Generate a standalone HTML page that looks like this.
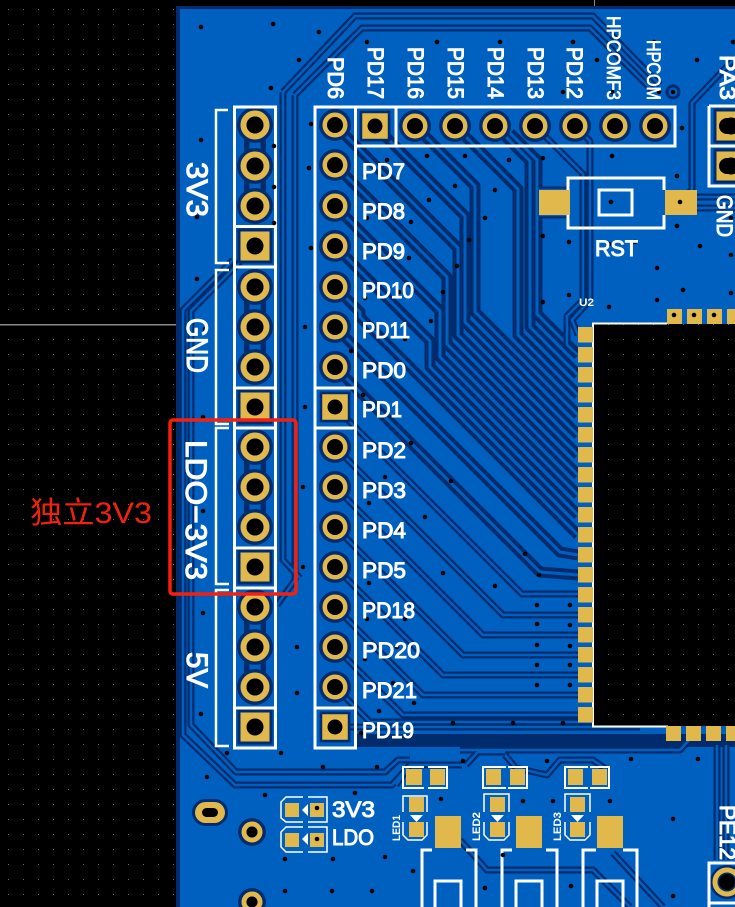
<!DOCTYPE html>
<html><head><meta charset="utf-8"><style>
html,body{margin:0;padding:0;background:#000;width:735px;height:907px;overflow:hidden}
svg{display:block;position:absolute;left:0;top:0}
.s{font-family:"Liberation Sans",sans-serif;fill:#fff;stroke:#fff;stroke-width:1}
.r{font-size:22px}
.b{font-size:30px;stroke-width:1.1}
.m{font-size:19px;stroke-width:.7}
.k{font-family:"Liberation Sans",sans-serif;font-weight:bold;font-size:11px;fill:#fff}
</style></head><body>
<svg width="735" height="907" viewBox="0 0 735 907" xmlns="http://www.w3.org/2000/svg">
<defs>
<pattern id="g" width="15" height="15" patternUnits="userSpaceOnUse"><rect x="8" y="9" width="1" height="1" fill="#6a6a6a"/></pattern>
<g id="fan" fill="none" stroke-linejoin="round">
<path d="M335 287L360 312V317L578 535"/>
<path d="M335 246L430 341V367L578 515"/>
<path d="M335 206L440 311V357L578 495"/>
<path d="M335 165L447 277V344L578 475"/>
<path d="M335 125L458 248V335L578 455"/>
<path d="M375 126L465 216V322L578 435"/>
<path d="M415 126L475 186V312L578 415"/>
<path d="M455 126L518 189V335L578 395"/>
<path d="M495 126L530 161V327L578 375"/>
<path d="M510 133L537 160V314L578 355"/>
<path d="M335 327L560 552L578 555"/>
<path d="M335 367L540 572L578 575"/>
</g>
<g id="low" fill="none" stroke-linejoin="round">
<path d="M335 407L522 594H578"/>
<path d="M335 447L503 615H578"/>
<path d="M335 487L483 635H578"/>
<path d="M335 527L463 655H578"/>
<path d="M335 567L443 675H578"/>
<path d="M335 607L423 695H578"/>
<path d="M335 647L403 715H578"/>
<path d="M335 687L370 722H640"/>
<path d="M335 727H640"/>
<path d="M535 126L583 174V300L567 316V345L578 355"/>
<path d="M575 126L590 141V300L572 320L578 335"/>
<path d="M283 92L355 16H593L660 85"/>
<path d="M295 95L362 28H590L652 90"/>
<path d="M283 92V560L300 578"/>
<path d="M295 95V580L277 605"/>
<path d="M233 260L183 310V735L235 785H392L410 765H462"/>
<path d="M240 262L191 311V725L236 772H385L398 760H410"/>
<path d="M396 785L408 768"/>
<path d="M505 752H478L466 765M505 755L516 768L547 775L560 760H593L607 770"/>
<path d="M460 840L487 870H593L630 907"/>
<path d="M613 853L663 907"/>
<path d="M735 58L692 103V190L680 200"/>
<path d="M697 197H735M697 208H735"/>
<path d="M539 190H570M539 215H570"/>
<path d="M717 745V860M726 745V860"/>
<path d="M460 750H680L692 737"/>
</g>
<g id="ps"><rect x="-17.500" y="-17.500" width="35" height="35" fill="#002c6e"/><rect x="-14.500" y="-14.500" width="29" height="29" fill="#e1b84b"/><circle r="8.500" fill="#000"/></g>
<g id="bp"><circle r="18" fill="#002c6e"/><circle r="11.500" fill="none" stroke="#e1b84b" stroke-width="6"/><circle r="8.500" fill="#000"/></g>
<g id="sp"><circle r="16" fill="#002c6e"/><circle r="10" fill="none" stroke="#e1b84b" stroke-width="5"/><circle r="8" fill="#000"/></g>
</defs>

<rect width="735" height="907" fill="#000"/>
<rect width="735" height="907" fill="url(#g)"/>
<rect x="0" y="324" width="177" height="1.5" fill="#8a8a8a"/>
<rect x="594" y="0" width="1" height="6" fill="#8a8a8a"/>

<rect x="176" y="6" width="559" height="901" fill="#002c6e"/>
<rect x="180" y="9" width="555" height="898" fill="#0060c0"/>

<rect x="355" y="734" width="380" height="13" fill="#002c6e"/>

<use href="#fan" stroke="#002c6e" stroke-width="11"/>
<use href="#fan" stroke="#0060c0" stroke-width="3"/>
<use href="#low" stroke="#002c6e" stroke-width="7"/>
<use href="#low" stroke="#0060c0" stroke-width="2.500"/>

<path d="M255 125V206M255 287V367M255 447V527M255 607V687" stroke="#002c6e" stroke-width="22"/>
<path d="M255 125V206M255 287V367M255 447V527M255 607V687" stroke="#0060c0" stroke-width="11"/>

<use href="#bp" x="255" y="125"/><use href="#bp" x="255" y="166"/><use href="#bp" x="255" y="206"/><use href="#ps" x="255" y="246"/>
<use href="#bp" x="255" y="287"/><use href="#bp" x="255" y="327"/><use href="#bp" x="255" y="367"/><use href="#ps" x="255" y="407"/>
<use href="#bp" x="255" y="447"/><use href="#bp" x="255" y="487"/><use href="#bp" x="255" y="527"/><use href="#ps" x="255" y="567"/>
<use href="#bp" x="255" y="607"/><use href="#bp" x="255" y="647"/><use href="#bp" x="255" y="687"/><use href="#ps" x="255" y="727"/>

<use href="#sp" x="335" y="125"/><use href="#sp" x="335" y="165"/><use href="#sp" x="335" y="206"/><use href="#sp" x="335" y="246"/>
<use href="#sp" x="335" y="287"/><use href="#sp" x="335" y="327"/><use href="#sp" x="335" y="367"/>
<g transform="translate(335,407) scale(.88)"><use href="#ps"/></g>
<use href="#sp" x="335" y="447"/><use href="#sp" x="335" y="487"/><use href="#sp" x="335" y="527"/><use href="#sp" x="335" y="567"/>
<use href="#sp" x="335" y="607"/><use href="#sp" x="335" y="647"/><use href="#sp" x="335" y="687"/>
<g transform="translate(335,727) scale(.88)"><use href="#ps"/></g>

<g transform="translate(375,126) scale(.88)"><use href="#ps"/></g>
<use href="#sp" x="415" y="126"/><use href="#sp" x="455" y="126"/><use href="#sp" x="495" y="126"/><use href="#sp" x="535" y="126"/><use href="#sp" x="575" y="126"/><use href="#sp" x="615" y="126"/><use href="#sp" x="655" y="126"/>
<circle cx="673" cy="92" r="6" fill="none" stroke="#002c6e" stroke-width="3"/><circle cx="673" cy="92" r="2.3" fill="#000"/>

<use href="#ps" x="731" y="126"/><use href="#ps" x="731" y="166"/>
<circle cx="727" cy="126" r="8" fill="#000"/><circle cx="727" cy="166" r="8" fill="#000"/>
<circle cx="727" cy="882" r="17" fill="#002c6e"/><circle cx="727" cy="882" r="12" fill="none" stroke="#e1b84b" stroke-width="5"/><circle cx="727" cy="882" r="8" fill="#000"/>

<!-- chip -->
<rect x="593" y="324" width="142" height="402" fill="#000"/>
<rect x="593" y="324" width="142" height="402" fill="url(#g)"/>
<path d="M667 323.5H593V726.5H668" fill="none" stroke="#fff" stroke-width="2"/>
<g fill="#e1b84b">
<rect x="578" y="327" width="15" height="15.500"/><rect x="578" y="347" width="15" height="15.500"/><rect x="578" y="367" width="15" height="15.500"/><rect x="578" y="387" width="15" height="15.500"/><rect x="578" y="407" width="15" height="15.500"/><rect x="578" y="427" width="15" height="15.500"/><rect x="578" y="447" width="15" height="15.500"/><rect x="578" y="467" width="15" height="15.500"/><rect x="578" y="487" width="15" height="15.500"/><rect x="578" y="507" width="15" height="15.500"/><rect x="578" y="527" width="15" height="15.500"/><rect x="578" y="547" width="15" height="15.500"/><rect x="578" y="567" width="15" height="15.500"/><rect x="578" y="587" width="15" height="15.500"/><rect x="578" y="607" width="15" height="15.500"/><rect x="578" y="627" width="15" height="15.500"/><rect x="578" y="647" width="15" height="15.500"/><rect x="578" y="667" width="15" height="15.500"/><rect x="578" y="687" width="15" height="15.500"/><rect x="578" y="707" width="15" height="15.500"/>
<rect x="667" y="309" width="15" height="15"/><rect x="687" y="309" width="15" height="15"/><rect x="707" y="309" width="15" height="15"/><rect x="727" y="309" width="8" height="15"/>
<rect x="666" y="726" width="15" height="15"/><rect x="686" y="726" width="15" height="15"/><rect x="706" y="726" width="15" height="15"/><rect x="726" y="726" width="9" height="15"/>
<rect x="539" y="190" width="31" height="25"/><rect x="665" y="190" width="32" height="25"/>
<rect x="285" y="803" width="14" height="14"/><rect x="310" y="803" width="14" height="14"/><rect x="285" y="833" width="14" height="14"/><rect x="310" y="833" width="14" height="14"/>
<rect x="406" y="769" width="16" height="16"/><rect x="430" y="769" width="15" height="16"/><rect x="409" y="797" width="15" height="15"/><rect x="409" y="822" width="15" height="15"/>
<rect x="486" y="769" width="15" height="16"/><rect x="510" y="769" width="15" height="16"/><rect x="490" y="797" width="15" height="15"/><rect x="490" y="822" width="15" height="15"/>
<rect x="568" y="769" width="15" height="16"/><rect x="592" y="769" width="15" height="16"/><rect x="570" y="797" width="15" height="15"/><rect x="570" y="822" width="15" height="15"/>
<rect x="435" y="816" width="26" height="32"/><rect x="516" y="816" width="26" height="32"/><rect x="597" y="816" width="26" height="32"/>
</g>

<!-- mounting -->
<rect x="192" y="799" width="36" height="27" rx="13.500" fill="#002c6e"/><rect x="195" y="802" width="30" height="21" rx="10.500" fill="#e1b84b"/><rect x="202" y="808" width="16" height="9" rx="4.500" fill="#000"/>
<circle cx="252" cy="832" r="14" fill="#002c6e"/><circle cx="252" cy="832" r="8" fill="none" stroke="#e1b84b" stroke-width="5"/><circle cx="252" cy="832" r="5.500" fill="#000"/>
<circle cx="252" cy="902" r="14" fill="#002c6e"/><circle cx="252" cy="902" r="8" fill="none" stroke="#e1b84b" stroke-width="5"/><circle cx="252" cy="902" r="5.500" fill="#000"/>

<!-- silk -->
<g fill="none" stroke="#fff" stroke-width="3">
<path d="M234.500 107H275.500V748H234.500Z"/>
<path d="M234.500 226.500H275.500M234.500 267H275.500M234.500 388H275.500M234.500 428H275.500M234.500 548H275.500M234.500 588H275.500M234.500 708H275.500"/>
<path d="M315 107H355.500V748H315Z"/>
<path d="M315 388H355.500M315 428H355.500M315 708H355.500"/>
<path d="M355.500 107H675V146H355.500M396 107V146"/>
<path d="M228 110H216V263H229M229 270H216V424H229M229 428H216V584H229M229 590H216V746H229" stroke-width="2.500"/>
<path d="M709 106H735M709 106V186H735M709 146H735"/>
<path d="M735 863H709V907M709 903H735"/>
<path d="M568 190V178H664V190M568 215V228H664V215"/>
<rect x="599" y="190" width="33" height="25"/>
<path d="M303 797H286L281 802V818L286 822H303M308 797H327V822H308M303 827H286L281 832V847L286 852H303M308 827H327V852H308" stroke-width="1.500"/>
<path d="M424 767H403V788H424M428 767H447V788H428M506 767H483V788H506M508 767H527V788H508M588 767H565V788H588M590 767H609V788H590" stroke-width="2"/>
<path d="M403 812V796H427V812M403 822V835L408 840H422L427 835V822M484 812V794H509V812M484 822V835L489 840H504L509 835V822M565 812V794H590V812M565 822V835L570 840H585L590 835V822" stroke-width="1.500"/>
<path d="M422 907V850H432M466 850H476V907M435 907V881H461V907M502 907V850H512M546 850H557V907M516 907V881H542V907M583 907V850H596M623 850H637V907M597 907V881H623V907"/>
</g>
<g fill="#fff"><path d="M302 810L308 804V816Z M302 839L308 833V845Z M410 815H423L416.500 822Z M491 815H504L497.500 822Z M571 815H584L577.500 822Z"/></g>

<!-- vias -->
<path fill="none" stroke="#000" stroke-width="4.600" stroke-linecap="round" d="M201 27h0M273 24h0M319 32h0M299 60h0M271 88h0M367 42h0M437 42h0M311 124h0M201 140h0M274 146h0M274 187h0M309 168h0M197 217h0M274 223h0M311 248h0M197 279h0M387 160h0M427 156h0M365 176h0M455 186h0M429 200h0M367 218h0M411 222h0M365 256h0M409 258h0M457 266h0M365 298h0M399 292h0M443 292h0
M500 42h0M573 42h0M597 60h0M654 42h0M697 60h0M733 42h0M563 92h0M612 92h0M659 92h0M682 128h0M465 156h0M509 160h0M543 158h0M612 156h0M677 176h0M495 190h0M485 218h0M469 240h0M543 236h0M569 242h0M609 244h0M635 242h0M677 226h0M700 246h0M731 255h0M657 268h0M683 290h0M731 293h0M543 302h0M569 295h0M609 307h0M657 300h0M611 202h0M680 202h0M731 218h0
M431 321h0M405 339h0M351 351h0M363 395h0M411 443h0M385 477h0M451 481h0M369 503h0M425 517h0M399 529h0M397 569h0M443 573h0M369 583h0M525 554h0M539 575h0M495 586h0M537 605h0M570 605h0M367 619h0M405 619h0M537 624h0M570 625h0M537 645h0M570 646h0M397 647h0M365 659h0M537 665h0M570 665h0M393 683h0M537 685h0M570 685h0M414 703h0M379 711h0M361 733h0M453 723h0M513 723h0M563 723h0
M227 753h0M281 753h0M323 767h0M377 767h0M463 761h0M207 777h0M265 795h0M355 793h0M441 799h0M341 809h0M285 859h0M333 859h0M385 857h0M413 871h0M285 891h0M332 891h0M372 891h0M317 808h0M317 839h0
M547 761h0M631 759h0M698 759h0M523 801h0M553 801h0M610 801h0M673 819h0M503 855h0M485 888h0M571 886h0M673 896h0
M305 327h0M305 407h0M303 487h0M303 567h0M205 329h0M203 417h0M203 511h0M203 613h0M201 714h0M297 647h0M297 693h0M674 315h0M694 315h0M714 315h0"/>

<!-- labels -->
<g class="s r">
<text x="362" y="179" textLength="43" lengthAdjust="spacingAndGlyphs">PD7</text>
<text x="362" y="219" textLength="43" lengthAdjust="spacingAndGlyphs">PD8</text>
<text x="362" y="259" textLength="43" lengthAdjust="spacingAndGlyphs">PD9</text>
<text x="362" y="298" textLength="52" lengthAdjust="spacingAndGlyphs">PD10</text>
<text x="362" y="338" textLength="48" lengthAdjust="spacingAndGlyphs">PD11</text>
<text x="362" y="378" textLength="44" lengthAdjust="spacingAndGlyphs">PD0</text>
<text x="362" y="417" textLength="40" lengthAdjust="spacingAndGlyphs">PD1</text>
<text x="362" y="458" textLength="44" lengthAdjust="spacingAndGlyphs">PD2</text>
<text x="362" y="498" textLength="44" lengthAdjust="spacingAndGlyphs">PD3</text>
<text x="362" y="538" textLength="44" lengthAdjust="spacingAndGlyphs">PD4</text>
<text x="362" y="578" textLength="44" lengthAdjust="spacingAndGlyphs">PD5</text>
<text x="362" y="618" textLength="53" lengthAdjust="spacingAndGlyphs">PD18</text>
<text x="362" y="658" textLength="58" lengthAdjust="spacingAndGlyphs">PD20</text>
<text x="362" y="698" textLength="55" lengthAdjust="spacingAndGlyphs">PD21</text>
<text x="362" y="738" textLength="52" lengthAdjust="spacingAndGlyphs">PD19</text>
<text x="595" y="256" textLength="43" lengthAdjust="spacingAndGlyphs">RST</text>
<text x="332" y="817" textLength="43" lengthAdjust="spacingAndGlyphs">3V3</text>
<text x="332" y="845" textLength="42" lengthAdjust="spacingAndGlyphs">LDO</text>
<text transform="translate(328,57) rotate(90)" textLength="42" lengthAdjust="spacingAndGlyphs">PD6</text>
<text transform="translate(368,47) rotate(90)" textLength="52" lengthAdjust="spacingAndGlyphs">PD17</text>
<text transform="translate(408,47) rotate(90)" textLength="52" lengthAdjust="spacingAndGlyphs">PD16</text>
<text transform="translate(448,47) rotate(90)" textLength="52" lengthAdjust="spacingAndGlyphs">PD15</text>
<text transform="translate(488,47) rotate(90)" textLength="52" lengthAdjust="spacingAndGlyphs">PD14</text>
<text transform="translate(528,47) rotate(90)" textLength="52" lengthAdjust="spacingAndGlyphs">PD13</text>
<text transform="translate(567,47) rotate(90)" textLength="52" lengthAdjust="spacingAndGlyphs">PD12</text>
<text transform="translate(720,55) rotate(90)" textLength="45" lengthAdjust="spacingAndGlyphs">PA3</text>
<text transform="translate(717,195) rotate(90)" textLength="42" lengthAdjust="spacingAndGlyphs">GND</text>
<text transform="translate(720,805) rotate(90)" textLength="55" lengthAdjust="spacingAndGlyphs">PE12</text>
</g>
<g class="s m">
<text transform="translate(607,16) rotate(90)" textLength="84" lengthAdjust="spacingAndGlyphs">HPCOMF3</text>
<text transform="translate(647,40) rotate(90)" textLength="60" lengthAdjust="spacingAndGlyphs">HPCOM</text>
</g>
<g class="s b">
<text transform="translate(187,162) rotate(90)" textLength="55" lengthAdjust="spacingAndGlyphs">3V3</text>
<text transform="translate(187,318) rotate(90)" textLength="55" lengthAdjust="spacingAndGlyphs">GND</text>
<text transform="translate(186,440) rotate(90)" textLength="140" lengthAdjust="spacingAndGlyphs">LDO−3V3</text>
<text transform="translate(187,652) rotate(90)" textLength="36" lengthAdjust="spacingAndGlyphs">5V</text>
</g>
<g class="k">
<text x="579" y="306" textLength="15" lengthAdjust="spacingAndGlyphs">U2</text>
<text transform="translate(400,841) rotate(-90)" textLength="26" lengthAdjust="spacingAndGlyphs">LED1</text>
<text transform="translate(480,841) rotate(-90)" textLength="29" lengthAdjust="spacingAndGlyphs">LED2</text>
<text transform="translate(561,841) rotate(-90)" textLength="29" lengthAdjust="spacingAndGlyphs">LED3</text>
</g>

<!-- annotation -->
<rect x="170" y="420" width="126" height="174" rx="3" fill="none" stroke="#f4200f" stroke-width="3.500"/>
<text x="30" y="523" font-size="30" fill="#f4200f" textLength="122" lengthAdjust="spacingAndGlyphs" style="font-family:'Liberation Sans','Noto Sans CJK SC',sans-serif">独立3V3</text>
</svg>
</body></html>
